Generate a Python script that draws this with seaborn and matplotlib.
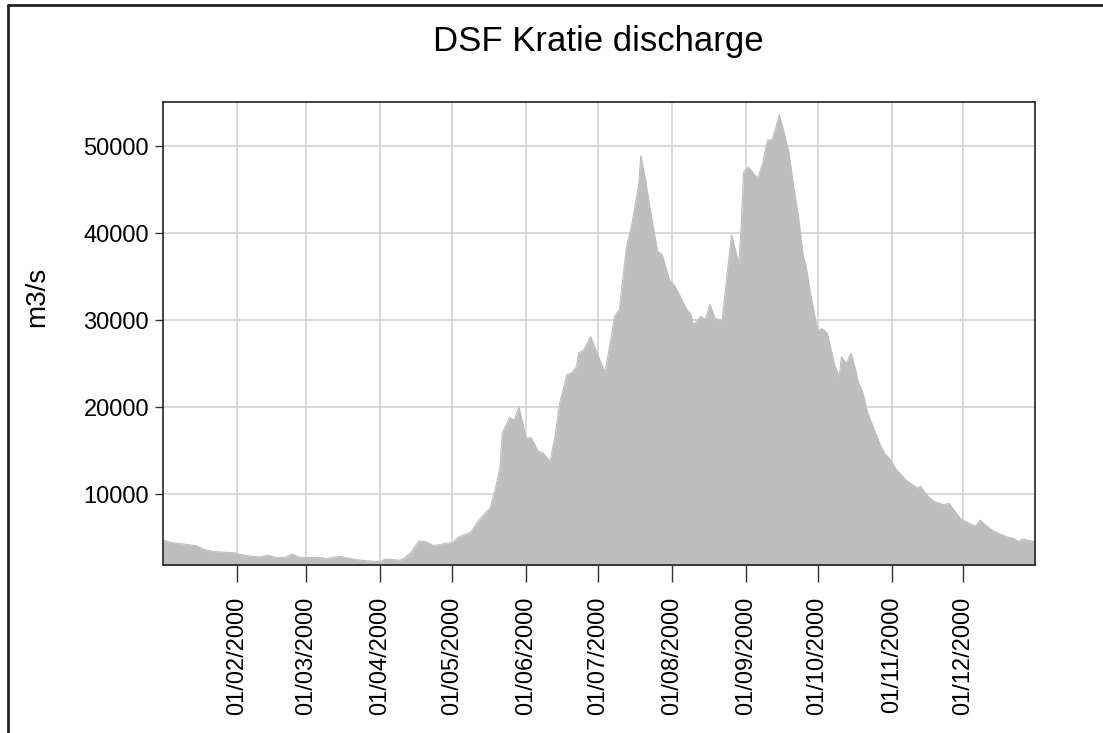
import pandas as pd
import matplotlib.pyplot as plt
import matplotlib.dates as mdates
from matplotlib.lines import Line2D
import seaborn as sns

# Daily discharge (day offset from 1 Jan 2000, m3/s)
day_offset = [0, 3, 11, 14, 17, 21, 30, 32, 36, 40, 44, 47, 51, 54, 57, 67, 68, 74, 78, 82,
              88, 91, 93, 96, 99, 101, 104, 107, 110, 113, 116, 118, 121, 124, 127, 129, 132, 135, 137, 139,
              141, 142, 145, 147, 149, 152, 154, 155, 157, 159, 162, 164, 166, 169, 171, 173, 174, 176, 179, 182,
              185, 187, 189, 191, 194, 196, 199, 200, 202, 204, 207, 209, 212, 214, 216, 219, 221, 222, 225, 227,
              229, 231, 234, 236, 238, 241, 242, 243, 245, 247, 249, 251, 253, 255, 257, 258, 260, 262, 264, 266,
              268, 269, 271, 274, 276, 278, 281, 283, 284, 286, 288, 290, 291, 293, 295, 297, 300, 302, 304, 307,
              311, 313, 316, 317, 320, 323, 327, 329, 332, 334, 337, 340, 342, 345, 348, 353, 356, 358, 360, 365]
discharge = [4750, 4450, 4150, 4050, 3650, 3380, 3250, 3070, 2870, 2760, 2950, 2720, 2720, 3100, 2720, 2680, 2560, 2840, 2610, 2410,
             2260, 2250, 2490, 2490, 2380, 2610, 3370, 4600, 4520, 4100, 4170, 4330, 4400, 5100, 5400, 5670, 6900, 7850, 8400, 10500,
             13000, 17000, 18800, 18500, 20000, 16400, 16500, 16000, 14900, 14750, 13750, 16500, 20400, 23700, 23900, 24600, 26200, 26500, 28100, 26000,
             24000, 27100, 30400, 31200, 38400, 40700, 45300, 48900, 46100, 42600, 37900, 37500, 34600, 34000, 33000, 31300, 30600, 29400, 30400, 30100,
             31800, 30200, 29900, 35000, 39800, 36500, 40700, 47000, 47600, 46900, 46300, 48000, 50700, 50700, 52600, 53600, 51500, 49200, 45300, 41900,
             37300, 36500, 33100, 28800, 29000, 28500, 25000, 23500, 25800, 25000, 26200, 24200, 22900, 21600, 19300, 17900, 15800, 14700, 14100, 12800,
             11600, 11200, 10650, 10900, 9800, 9100, 8750, 8950, 7800, 7100, 6700, 6300, 7000, 6250, 5700, 5100, 4900, 4550, 4800, 4500]

y_ticks = [10000, 20000, 30000, 40000, 50000]

df = pd.DataFrame({
    "date": pd.Timestamp("2000-01-01") + pd.to_timedelta(day_offset, unit="D"),
    "Q": discharge,
})

sns.set_style("white")
plt.rcParams["font.family"] = ["Liberation Sans", "DejaVu Sans"]
plt.rcParams["text.color"] = "black"
plt.rcParams["xtick.color"] = "black"
plt.rcParams["ytick.color"] = "black"
plt.rcParams["axes.labelcolor"] = "black"

fig = plt.figure(figsize=(11.03, 7.33), dpi=100)
ax = fig.add_axes([163 / 1103, 1 - 565 / 733, (1035 - 163) / 1103, (565 - 102) / 733])

# Area under the hydrograph
ax.fill_between(df["date"], 0, df["Q"], color="#bebebe", linewidth=0, zorder=2)
sns.lineplot(data=df, x="date", y="Q", ax=ax, color="#bebebe", linewidth=0.8, zorder=2)

ax.set_xlim(pd.Timestamp("2000-01-01"), pd.Timestamp("2000-12-31"))
ax.set_ylim(1840, 55060)

ax.xaxis.set_major_locator(mdates.MonthLocator(bymonth=range(2, 13)))
ax.xaxis.set_major_formatter(mdates.DateFormatter("%d/%m/%Y"))
ax.set_yticks(y_ticks)
ax.set_yticklabels([str(v) for v in y_ticks])

ax.grid(True, color="#d3d3d3", linewidth=1.2, zorder=1)
ax.set_axisbelow(True)
for s in ax.spines.values():
    s.set_color("#222222")
    s.set_linewidth(1.2)

ax.tick_params(axis="x", labelrotation=90, labelsize=17, length=12, width=1, color="#333333", pad=11, bottom=True)
ax.tick_params(axis="y", labelsize=17, length=6, width=1, color="#333333", pad=4, left=True)

ax.set_xlabel("")
ax.set_ylabel("")
fig.text(37 / 1103, 1 - 297 / 733, "m3/s", rotation=90, ha="center", va="center", fontsize=20)

fig.text(598 / 1103, 1 - 42 / 733, "DSF Kratie discharge", ha="center", va="center", fontsize=25)

# Outer frame (left and top edges visible in the reference)
fig.add_artist(Line2D([8 / 1103, 8 / 1103], [0, 1 - 5 / 733], transform=fig.transFigure, color="#222222", linewidth=2))
fig.add_artist(Line2D([8 / 1103, 1], [1 - 5 / 733, 1 - 5 / 733], transform=fig.transFigure, color="#222222", linewidth=2))

fig.savefig("out.png", dpi=100)
